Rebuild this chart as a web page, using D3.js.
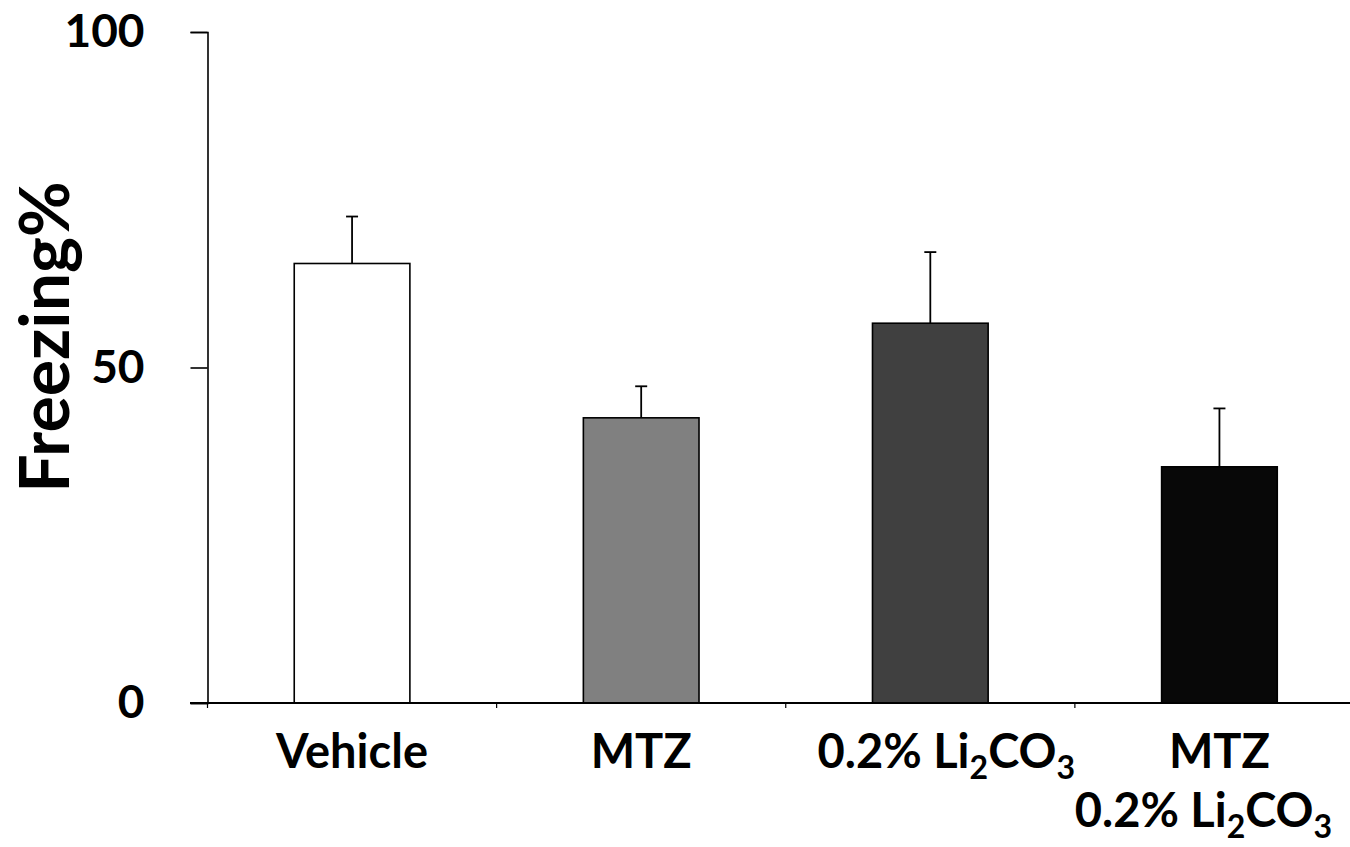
<!DOCTYPE html>
<html><head><meta charset="utf-8">
<script src="https://cdn.jsdelivr.net/npm/d3@7"></script>
<style>html,body{margin:0;padding:0;background:#fff;}svg{display:block;}</style>
</head><body>
<svg id="chart" width="1350" height="847"></svg>
<script>
const categories = ["Vehicle", "MTZ", "0.2% Li2CO3", "MTZ\n0.2% Li2CO3"];
const means = [65.5, 42.5, 56.6, 35.2];
const sems = [7.0, 4.7, 10.6, 8.7];
const barColors = ["#ffffff", "#808080", "#404040", "#080808"];
const yTicks = [0, 50, 100];
const yTitle = "Freezing%";

const svg = d3.select("#chart");
const FONT = "Lato, 'Open Sans', sans-serif";
const x0 = 207.5, x1 = 1364, yBottom = 703, yTop = 32;
// small horizontal nudges of label lines, as in the reference layout
const labelShift = [[0], [0], [16], [0, -16]];

const x = d3.scaleBand().domain(d3.range(categories.length)).range([x0, x1]).paddingInner(0.6).paddingOuter(0.3);
const y = d3.scaleLinear().domain([0, 100]).range([yBottom, yTop]);

// bars
svg.selectAll("rect.bar").data(means).enter().append("rect")
  .attr("x", (d,i) => x(i)).attr("width", x.bandwidth())
  .attr("y", d => y(d)).attr("height", d => y(0) - y(d))
  .attr("fill", (d,i) => barColors[i]).attr("stroke", "#000").attr("stroke-width", 1.6);

// error bars
const eb = svg.selectAll("g.err").data(means).enter().append("g");
eb.append("line")
  .attr("x1", (d,i) => x(i) + x.bandwidth()/2).attr("x2", (d,i) => x(i) + x.bandwidth()/2)
  .attr("y1", d => y(d)).attr("y2", (d,i) => y(d + sems[i]))
  .attr("stroke", "#000").attr("stroke-width", 1.8);
eb.append("line")
  .attr("x1", (d,i) => x(i) + x.bandwidth()/2 - 6).attr("x2", (d,i) => x(i) + x.bandwidth()/2 + 6)
  .attr("y1", (d,i) => y(d + sems[i])).attr("y2", (d,i) => y(d + sems[i]))
  .attr("stroke", "#000").attr("stroke-width", 1.8);

// y axis
const yAxis = d3.axisLeft(y).tickValues(yTicks).tickSize(17).tickPadding(46).tickSizeOuter(17);
const gy = svg.append("g").attr("transform", `translate(${x0},0)`).call(yAxis);
gy.select(".domain").attr("stroke", "#000").attr("stroke-width", 1.6);
gy.selectAll(".tick line").attr("stroke", "#000").attr("stroke-width", 1.6);
gy.selectAll(".tick text").attr("font-family", FONT).attr("font-weight", "bold").attr("font-size", 46).attr("fill", "#000");

// x axis line
svg.append("line").attr("x1", 190).attr("x2", 1350).attr("y1", yBottom).attr("y2", yBottom)
  .attr("stroke", "#000").attr("stroke-width", 1.8);
// x ticks at band boundaries
const bounds = d3.range(categories.length + 1).map(i => x0 + i * x.step());
svg.selectAll("line.xt").data(bounds).enter().append("line")
  .attr("x1", d => d).attr("x2", d => d).attr("y1", yBottom).attr("y2", yBottom + 5)
  .attr("stroke", "#000").attr("stroke-width", 1.2);

// x labels with subscripts
function addLabel(line, cx, baseline) {
  const t = svg.append("text").attr("x", cx).attr("y", baseline).attr("text-anchor", "middle")
    .attr("font-family", FONT).attr("font-weight", "bold").attr("font-size", 47).attr("fill", "#000");
  const m = line.match(/^(.*Li)2(CO)3$/);
  if (m) {
    t.append("tspan").text(m[1]);
    t.append("tspan").attr("font-size", 32).attr("dy", 11).text("2");
    t.append("tspan").attr("dy", -11).text(m[2]);
    t.append("tspan").attr("font-size", 32).attr("dy", 11).text("3");
  } else {
    t.text(line);
  }
}
categories.forEach((c, i) => {
  const cx = x(i) + x.bandwidth()/2;
  c.split("\n").forEach((ln, j) => addLabel(ln, cx + (labelShift[i][j] || 0), 768 + j * 59));
});

// y title
svg.append("text").attr("transform", "translate(69,337) rotate(-90)").attr("text-anchor", "middle")
  .attr("font-family", FONT).attr("font-weight", "bold").attr("font-size", 68).attr("fill", "#000").text(yTitle);
</script>
</body></html>
